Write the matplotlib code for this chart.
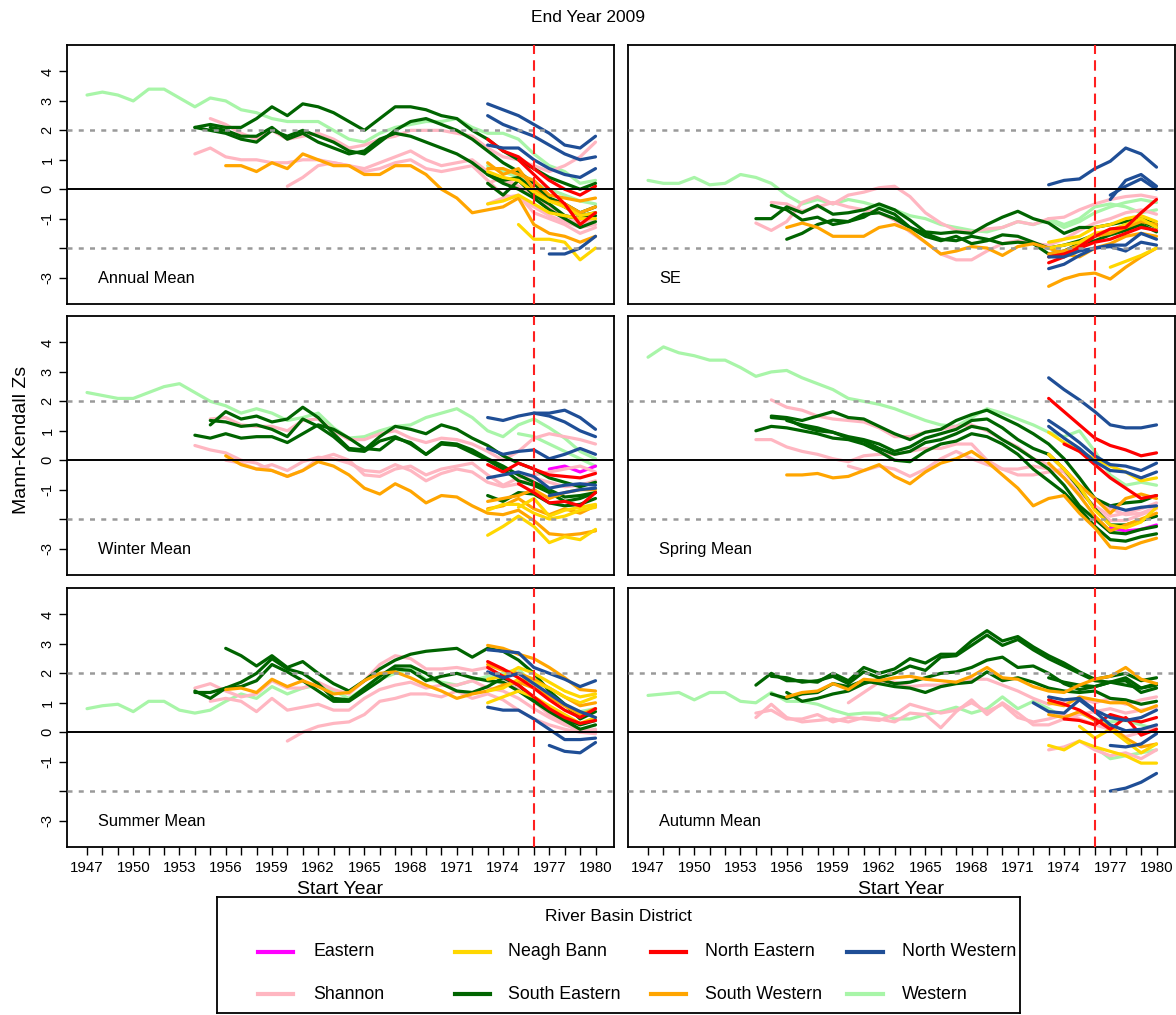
import numpy as np
import matplotlib
matplotlib.use("Agg")
import matplotlib.pyplot as plt

plt.rcParams['font.family'] = ['Liberation Sans', 'DejaVu Sans']

districts = ["Eastern", "Neagh Bann", "North Eastern", "North Western",
             "Shannon", "South Eastern", "South Western", "Western"]
district_colors = ["#FF00FF", "#FFD700", "#FF0000", "#1F4E96",
                   "#FFB6C1", "#006400", "#FFA500", "#A8F5A8"]
panel_titles = ["Annual Mean", "SE", "Winter Mean", "Spring Mean", "Summer Mean", "Autumn Mean"]
first_year, last_year = 1947, 1980
change_year = 1976
ytick_values = [-3, -2, -1, 0, 1, 2, 3, 4]
ytick_labels = ["-3", "", "-1", "0", "1", "2", "3", "4"]

# (district, start year, Mann-Kendall Zs for start year .. 1980)
annual_mean = [
    ("Western", 1947, [3.2, 3.3, 3.2, 3.0, 3.4, 3.4, 3.1, 2.8, 3.1, 3.0, 2.7, 2.6, 2.4, 2.3, 2.3, 2.3, 2.0,
                       1.7, 1.6, 1.9, 2.1, 2.2, 2.3, 2.3, 2.4, 2.1, 1.9, 1.9, 1.7, 1.2, 0.8, 0.6, 0.2, 0.3]),
    ("Western", 1973, [0.8, 0.6, 0.4, 0.2, 0.0, -0.2, -0.4, -0.5]),
    ("Shannon", 1955, [2.4, 2.2, 1.9, 1.7, 2.0, 1.7, 1.8, 1.9, 1.7, 1.4, 1.5, 1.7, 1.8, 2.0, 2.0, 2.0, 1.9,
                       1.8, 1.4, 1.1, 1.0, 0.8, 0.6, 0.8, 1.1, 1.6]),
    ("Shannon", 1954, [1.2, 1.4, 1.1, 1.0, 1.0, 0.9, 0.9, 1.0, 1.0, 0.9, 0.8, 0.7, 0.9, 1.1, 1.3, 1.0, 0.8,
                       0.9, 1.0, 0.6, 0.3, 0.0, -0.2, -0.6, -0.9, -1.2, -1.0]),
    ("Shannon", 1960, [0.1, 0.4, 0.8, 0.9, 0.8, 0.6, 0.7, 0.9, 1.0, 0.7, 0.6, 0.7, 0.8, 0.3, -0.2, -0.3,
                       -0.6, -0.9, -1.1, -1.3, -1.2]),
    ("Shannon", 1973, [-0.5, -0.3, -0.2, -0.8, -1.0, -1.2, -1.5, -1.3]),
    ("Shannon", 1973, [0.2, 0.4, 0.1, -0.3, -0.6, -0.9, -1.1, -1.0]),
    ("South Eastern", 1954, [2.1, 2.2, 2.1, 2.1, 2.4, 2.8, 2.5, 2.9, 2.8, 2.6, 2.3, 2.0, 2.4, 2.8, 2.8, 2.7,
                             2.5, 2.4, 2.0, 1.7, 1.3, 1.0, 0.7, 0.4, 0.2, 0.0, 0.2]),
    ("South Eastern", 1954, [2.1, 2.0, 1.9, 1.7, 1.6, 2.0, 1.8, 2.0, 1.8, 1.6, 1.3, 1.2, 1.6, 2.0, 2.3, 2.4,
                             2.2, 2.0, 1.7, 1.3, 0.9, 0.6, 0.2, -0.3, -0.6, -0.9, -0.8]),
    ("South Eastern", 1955, [2.1, 2.0, 1.8, 1.8, 2.1, 1.7, 1.9, 1.6, 1.4, 1.2, 1.3, 1.7, 1.9, 1.8, 1.6, 1.4,
                             1.2, 0.9, 0.5, 0.2, 0.0, -0.3, -0.7, -1.0, -1.3, -1.1]),
    ("South Eastern", 1973, [0.5, 0.3, 0.4, 0.0, -0.3, -0.5, -0.8, -0.6]),
    ("South Eastern", 1973, [0.2, -0.2, 0.3, -0.2, -0.5, -0.9, -1.0, -0.9]),
    ("South Western", 1956, [0.8, 0.8, 0.6, 0.9, 0.7, 1.2, 1.0, 0.8, 0.8, 0.5, 0.5, 0.8, 0.8, 0.5, 0.0,
                             -0.3, -0.8, -0.7, -0.6, -0.3, -1.2, -1.5, -1.6, -1.8, -1.6]),
    ("South Western", 1973, [0.7, 0.7, 0.5, 0.3, -0.2, -0.3, -0.4, -0.3]),
    ("South Western", 1973, [0.9, 0.5, 0.7, 0.0, -0.4, -0.5, -0.8, -0.6]),
    ("Neagh Bann", 1973, [-0.5, -0.4, -0.2, -0.5, -0.8, -0.9, -1.0, -1.0]),
    ("Neagh Bann", 1975, [-1.2, -1.7, -1.7, -1.8, -2.4, -2.0]),
    ("Neagh Bann", 1973, [0.6, 0.4, 0.3, -0.1, -0.4, -0.6, -0.9, -0.8]),
    ("North Eastern", 1973, [1.7, 1.3, 1.1, 0.7, 0.3, 0.0, -0.2, 0.1]),
    ("North Eastern", 1975, [1.0, 0.5, 0.0, -0.5, -1.2, -0.8]),
    ("North Western", 1973, [2.9, 2.7, 2.5, 2.2, 1.9, 1.5, 1.4, 1.8]),
    ("North Western", 1973, [2.5, 2.2, 2.0, 1.8, 1.5, 1.2, 1.0, 1.1]),
    ("North Western", 1973, [1.5, 1.4, 1.4, 1.0, 0.7, 0.5, 0.4, 0.7]),
    ("North Western", 1977, [-2.2, -2.2, -2.0, -1.6]),
]

se_panel = [
    ("Western", 1947, [0.3, 0.2, 0.2, 0.4, 0.15, 0.2, 0.5, 0.4, 0.2, -0.2, -0.5, -0.35, -0.5, -0.35, -0.45,
                       -0.6, -0.7, -0.9, -1.0, -1.2, -1.3, -1.4, -1.45, -1.3, -1.1, -1.2, -1.05, -1.3, -1.1,
                       -0.8, -0.6, -0.45, -0.35, -0.45]),
    ("Western", 1973, [-1.0, -1.2, -1.0, -0.6, -0.5, -0.6, -0.8, -0.7]),
    ("Shannon", 1954, [-1.15, -1.4, -1.1, -0.45, -0.25, -0.5, -0.2, -0.1, 0.05, 0.1, -0.25, -0.8, -1.15,
                       -1.4, -1.45, -1.35, -1.3, -1.1, -1.2, -1.0, -0.95, -0.7, -0.5, -0.35, -0.25, -0.2, -0.3]),
    ("Shannon", 1955, [-0.45, -0.5, -0.75, -0.6, -0.45, -0.6, -0.7, -0.8, -1.05, -1.45, -1.8, -2.2, -2.4,
                       -2.4, -2.1, -1.85, -1.75, -1.85, -1.9, -1.7, -1.4, -1.15, -1.0, -0.8, -0.7, -0.85]),
    ("South Eastern", 1954, [-1.0, -1.0, -0.6, -0.8, -0.55, -0.85, -0.8, -0.7, -0.5, -0.7, -1.05, -1.45,
                             -1.5, -1.45, -1.5, -1.2, -0.95, -0.75, -1.0, -1.15, -1.5, -1.3, -1.3, -1.2,
                             -1.1, -1.0, -1.2]),
    ("South Eastern", 1955, [-0.55, -0.7, -1.05, -0.95, -1.2, -1.1, -0.85, -0.8, -1.0, -1.3, -1.6, -1.75,
                             -1.6, -1.85, -1.75, -1.55, -1.6, -1.8, -2.0, -1.9, -1.75, -1.55, -1.45, -1.3,
                             -1.1, -1.3]),
    ("South Eastern", 1956, [-1.7, -1.5, -1.2, -1.05, -1.1, -0.95, -0.65, -0.85, -1.3, -1.5, -1.7, -1.75,
                             -1.6, -1.7, -1.85, -1.8, -1.85, -2.2, -2.1, -1.85, -1.75, -1.55, -1.4, -1.2,
                             -1.45]),
    ("South Western", 1956, [-1.3, -1.15, -1.3, -1.6, -1.6, -1.6, -1.3, -1.2, -1.4, -1.8, -2.2, -2.1,
                             -1.95, -2.0, -2.25, -1.95, -1.85, -2.0, -2.2, -2.3, -2.0, -1.85, -1.6, -1.5,
                             -1.6]),
    ("South Western", 1973, [-3.3, -3.05, -2.9, -2.85, -3.05, -2.65, -2.3, -2.0]),
    ("South Western", 1973, [-2.2, -2.1, -1.9, -1.6, -1.5, -1.3, -1.1, -1.2]),
    ("Neagh Bann", 1977, [-2.65, -2.45, -2.25, -2.0]),
    ("Neagh Bann", 1973, [-1.8, -1.7, -1.6, -1.3, -1.2, -1.0, -0.9, -1.1]),
    ("Neagh Bann", 1973, [-2.0, -1.9, -1.8, -1.5, -1.4, -1.2, -1.0, -1.3]),
    ("North Eastern", 1973, [-2.5, -2.3, -1.95, -1.6, -1.35, -1.3, -0.8, -0.35]),
    ("North Eastern", 1973, [-2.3, -2.2, -2.0, -1.8, -1.7, -1.5, -1.3, -1.4]),
    ("North Western", 1973, [0.15, 0.3, 0.35, 0.7, 0.95, 1.4, 1.2, 0.75]),
    ("North Western", 1977, [-0.35, 0.3, 0.5, 0.1]),
    ("North Western", 1977, [-0.2, 0.1, 0.35, 0.0]),
    ("North Western", 1973, [-2.7, -2.55, -2.25, -2.0, -1.95, -2.1, -1.8, -1.9]),
    ("North Western", 1973, [-2.3, -2.3, -2.1, -2.0, -1.9, -1.9, -1.5, -1.7]),
]

winter_mean = [
    ("Western", 1947, [2.3, 2.2, 2.1, 2.1, 2.3, 2.5, 2.6, 2.3, 2.0, 1.85, 1.6, 1.75, 1.6, 1.35, 1.45, 1.6,
                       1.1, 0.75, 0.8, 1.0, 1.15, 1.2, 1.45, 1.6, 1.75, 1.45, 1.0, 0.8, 1.2, 1.4, 1.1, 0.75,
                       0.3, 0.05]),
    ("Western", 1975, [0.9, 0.8, 0.55, 0.3, 0.05, -0.2]),
    ("Eastern", 1977, [-0.3, -0.2, -0.4, -0.2]),
    ("Shannon", 1955, [1.4, 1.45, 1.2, 1.15, 1.15, 1.0, 1.35, 1.4, 1.0, 0.7, 0.7, 0.9, 1.0, 0.75, 0.6, 0.75,
                       0.7, 0.55, 0.3, 0.0, 0.3, 0.75, 0.9, 0.8, 0.7, 0.55]),
    ("Shannon", 1954, [0.5, 0.35, 0.25, 0.0, -0.1, -0.35, -0.55, -0.35, 0.05, 0.2, 0.0, -0.5, -0.55, -0.3,
                       -0.2, -0.5, -0.3, -0.2, -0.1, -0.5, -0.85, -0.6, -0.5, -0.4, -0.3, -0.2, -0.4]),
    ("Shannon", 1956, [0.0, -0.1, -0.3, -0.15, -0.35, -0.05, 0.1, 0.05, -0.1, -0.35, -0.4, -0.15, -0.35,
                       -0.7, -0.45, -0.3, -0.4, -0.75, -0.9, -0.8, -0.6, -0.75, -0.9, -0.85, -0.7]),
    ("South Eastern", 1954, [0.85, 0.75, 0.9, 0.75, 0.8, 0.8, 0.6, 0.9, 1.2, 1.05, 0.75, 0.4, 0.35, 0.75,
                             0.6, 0.2, 0.55, 0.5, 0.25, 0.0, -0.3, -0.7, -0.85, -1.1, -1.4, -1.3, -1.1]),
    ("South Eastern", 1955, [1.2, 1.65, 1.4, 1.5, 1.3, 1.4, 1.8, 1.45, 0.9, 0.4, 0.35, 0.8, 1.15, 1.05, 0.9,
                             1.2, 1.05, 0.75, 0.5, 0.15, -0.1, -0.3, -0.6, -0.75, -0.9, -0.75]),
    ("South Eastern", 1955, [1.35, 1.3, 1.15, 1.2, 1.05, 0.8, 1.4, 1.15, 0.8, 0.35, 0.3, 0.65, 0.8, 0.55,
                             0.2, 0.6, 0.55, 0.35, 0.05, -0.2, -0.5, -0.75, -1.0, -1.25, -1.2, -1.1]),
    ("South Eastern", 1973, [-1.2, -1.4, -1.1, -1.15, -1.45, -1.55, -1.5, -1.3]),
    ("South Western", 1956, [0.15, -0.15, -0.3, -0.35, -0.55, -0.35, -0.05, -0.2, -0.5, -0.95, -1.15, -0.8,
                             -1.05, -1.45, -1.2, -1.25, -1.55, -1.8, -1.85, -1.7, -2.05, -2.5, -2.55, -2.5,
                             -2.4]),
    ("South Western", 1973, [-1.65, -1.55, -1.3, -1.65, -1.85, -1.65, -1.8, -1.55]),
    ("South Western", 1973, [-1.4, -1.3, -1.2, -1.0, -1.3, -1.1, -1.0, -1.0]),
    ("Neagh Bann", 1973, [-2.55, -2.25, -1.9, -2.25, -2.8, -2.6, -2.7, -2.35]),
    ("Neagh Bann", 1973, [-1.7, -1.5, -1.5, -1.8, -2.0, -1.9, -1.7, -1.6]),
    ("Neagh Bann", 1975, [-1.6, -1.3, -1.9, -1.7, -1.6, -1.5]),
    ("North Eastern", 1973, [-0.15, -0.4, -0.1, -0.3, -0.5, -0.55, -0.6, -0.45]),
    ("North Eastern", 1975, [-0.8, -1.1, -1.45, -1.4, -1.55, -1.1]),
    ("North Western", 1973, [1.45, 1.35, 1.5, 1.6, 1.6, 1.7, 1.45, 1.05]),
    ("North Western", 1976, [1.6, 1.5, 1.3, 1.0, 0.8]),
    ("North Western", 1973, [0.4, 0.2, 0.3, 0.35, 0.05, 0.2, 0.4, 0.2]),
    ("North Western", 1973, [-0.6, -0.5, -0.4, -0.55, -0.95, -0.85, -0.8, -0.85]),
    ("North Western", 1977, [-1.2, -1.1, -1.0, -0.95]),
]

spring_mean = [
    ("Western", 1947, [3.5, 3.85, 3.65, 3.55, 3.4, 3.4, 3.15, 2.85, 3.0, 3.05, 2.8, 2.6, 2.4, 2.1, 2.0, 1.9,
                       1.75, 1.55, 1.35, 1.2, 1.15, 1.45, 1.75, 1.6, 1.4, 1.2, 0.95, 0.8, 1.0, 0.3, -0.5,
                       -0.85, -0.75, -0.85]),
    ("Eastern", 1977, [-2.3, -2.4, -2.35, -2.2]),
    ("Shannon", 1955, [2.05, 1.8, 1.7, 1.5, 1.4, 1.35, 1.3, 1.1, 0.8, 0.8, 0.95, 1.05, 1.15, 1.2, 1.0, 0.7,
                       0.45, 0.05, -0.15, -0.6, -1.1, -1.55, -1.9, -1.8, -1.65, -1.45]),
    ("Shannon", 1954, [0.7, 0.7, 0.45, 0.3, 0.2, 0.05, -0.05, 0.15, 0.2, 0.2, 0.3, 0.4, 0.4, 0.55, 0.55,
                       0.0, -0.3, -0.5, -0.5, -0.4, -0.3, -0.85, -1.3, -1.65, -1.85, -1.8, -1.6]),
    ("Shannon", 1960, [-0.2, -0.35, -0.2, -0.3, -0.55, -0.3, 0.05, 0.3, 0.05, -0.15, -0.3, -0.3, -0.2, -0.3,
                       -0.4, -0.95, -1.65, -2.05, -2.05, -1.85, -1.65]),
    ("South Eastern", 1955, [1.5, 1.45, 1.35, 1.5, 1.65, 1.45, 1.4, 1.15, 0.9, 0.7, 0.95, 1.05, 1.35, 1.55,
                             1.7, 1.45, 1.2, 0.9, 0.55, 0.05, -0.6, -1.3, -1.55, -1.45, -1.4, -1.2]),
    ("South Eastern", 1954, [1.0, 1.15, 1.1, 1.0, 0.9, 0.75, 0.7, 0.55, 0.3, 0.0, -0.05, 0.3, 0.55, 0.65,
                             0.9, 0.8, 0.55, 0.2, -0.3, -0.7, -1.1, -1.65, -2.25, -2.7, -2.75, -2.6, -2.5]),
    ("South Eastern", 1955, [1.45, 1.4, 1.15, 1.0, 0.95, 0.75, 0.65, 0.4, 0.2, 0.3, 0.6, 0.7, 0.9, 1.15,
                             1.05, 0.7, 0.4, 0.05, -0.3, -0.85, -1.55, -2.0, -2.45, -2.5, -2.35, -2.25]),
    ("South Eastern", 1956, [1.35, 1.2, 1.1, 0.95, 0.8, 0.7, 0.55, 0.3, 0.45, 0.75, 0.9, 1.05, 1.35, 1.4,
                             1.1, 0.7, 0.4, 0.2, -0.3, -0.95, -1.65, -2.2, -2.2, -2.05, -1.9]),
    ("South Western", 1956, [-0.5, -0.5, -0.45, -0.6, -0.55, -0.35, -0.15, -0.55, -0.8, -0.4, -0.1, 0.05,
                             0.3, -0.05, -0.5, -0.95, -1.55, -1.3, -1.2, -1.8, -2.3, -2.95, -3.0, -2.8,
                             -2.65]),
    ("South Western", 1973, [0.2, -0.3, -0.85, -1.3, -1.8, -1.3, -1.15, -1.3]),
    ("South Western", 1973, [-0.1, -0.6, -1.2, -1.9, -2.4, -2.2, -2.0, -1.8]),
    ("Neagh Bann", 1973, [0.95, 0.6, 0.3, 0.05, -0.2, -0.4, -0.7, -0.6]),
    ("Neagh Bann", 1973, [0.2, -0.3, -0.9, -1.7, -2.2, -2.3, -2.1, -1.6]),
    ("North Eastern", 1973, [2.1, 1.65, 1.2, 0.75, 0.5, 0.35, 0.15, 0.25]),
    ("North Eastern", 1974, [0.55, 0.3, -0.15, -0.6, -0.95, -1.3, -1.2]),
    ("North Western", 1973, [2.8, 2.4, 2.05, 1.65, 1.2, 1.1, 1.1, 1.2]),
    ("North Western", 1973, [1.35, 1.0, 0.6, 0.15, -0.15, -0.2, -0.35, -0.1]),
    ("North Western", 1973, [1.15, 0.75, 0.4, -0.05, -0.35, -0.4, -0.6, -0.4]),
    ("North Western", 1977, [-1.55, -1.7, -1.6, -1.55]),
]

summer_mean = [
    ("Western", 1947, [0.8, 0.9, 0.95, 0.7, 1.05, 1.05, 0.75, 0.65, 0.75, 1.05, 1.3, 1.15, 1.55, 1.3, 1.5,
                       1.6, 1.4, 1.15, 1.5, 1.8, 2.0, 2.15, 1.8, 1.7, 1.6, 1.75, 1.9, 2.0, 2.15, 1.6, 1.3,
                       0.95, 0.7, 0.8]),
    ("Shannon", 1954, [1.5, 1.65, 1.4, 1.2, 1.3, 1.75, 1.5, 1.5, 1.7, 1.45, 1.3, 1.75, 2.3, 2.6, 2.5, 2.15,
                       2.15, 2.2, 2.1, 2.2, 1.85, 1.5, 1.05, 0.6, 0.3, 0.0, 0.1]),
    ("Shannon", 1955, [1.05, 1.15, 1.05, 0.7, 1.15, 0.75, 0.85, 0.95, 0.75, 0.75, 1.15, 1.45, 1.6, 1.7,
                       1.5, 1.6, 1.6, 1.75, 1.5, 1.4, 1.15, 0.8, 0.5, 0.25, 0.1, 0.05]),
    ("Shannon", 1960, [-0.3, 0.0, 0.2, 0.3, 0.35, 0.6, 1.05, 1.15, 1.3, 1.3, 1.2, 1.4, 1.15, 1.3, 1.1,
                       0.75, 0.45, 0.25, 0.1, 0.0, -0.05]),
    ("South Eastern", 1956, [2.85, 2.6, 2.25, 2.6, 2.2, 2.4, 2.0, 1.65, 1.4, 1.75, 2.15, 2.45, 2.65, 2.75,
                             2.8, 2.85, 2.55, 2.85, 2.75, 2.45, 2.0, 1.4, 0.95, 0.45, 0.7]),
    ("South Eastern", 1954, [1.35, 1.35, 1.5, 1.7, 2.0, 2.5, 2.15, 2.0, 1.65, 1.15, 1.1, 1.5, 1.9, 2.25,
                             2.25, 2.0, 1.65, 1.4, 1.35, 1.55, 1.85, 1.6, 1.15, 0.8, 0.45, 0.25, 0.4]),
    ("South Eastern", 1954, [1.4, 1.15, 1.5, 1.55, 1.75, 2.3, 2.05, 1.75, 1.4, 1.05, 1.05, 1.4, 1.75, 2.15,
                             2.1, 1.75, 1.9, 2.0, 1.85, 1.75, 1.7, 1.4, 1.05, 0.7, 0.4, 0.1, 0.25]),
    ("South Western", 1956, [1.45, 1.5, 1.35, 1.8, 1.55, 1.75, 1.55, 1.3, 1.35, 1.75, 2.0, 2.05, 1.85, 1.6,
                             1.4, 1.15, 1.3, 1.4, 1.6, 1.7, 1.5, 1.2, 0.9, 0.6, 0.8]),
    ("South Western", 1973, [2.95, 2.85, 2.65, 2.5, 2.2, 1.85, 1.45, 1.4]),
    ("South Western", 1973, [2.3, 2.1, 2.0, 1.8, 1.5, 1.2, 0.9, 1.0]),
    ("Neagh Bann", 1973, [1.4, 1.5, 1.8, 1.7, 1.5, 1.2, 1.0, 1.2]),
    ("Neagh Bann", 1973, [1.8, 1.9, 2.2, 2.0, 1.7, 1.4, 1.2, 1.3]),
    ("Neagh Bann", 1973, [1.0, 1.2, 1.4, 1.2, 0.9, 0.6, 0.3, 0.5]),
    ("North Eastern", 1973, [2.4, 2.15, 1.85, 1.5, 1.1, 0.75, 0.5, 0.8]),
    ("North Eastern", 1973, [2.2, 1.9, 1.6, 1.2, 0.8, 0.5, 0.3, 0.4]),
    ("North Western", 1973, [2.8, 2.75, 2.7, 2.2, 2.0, 1.8, 1.55, 1.75]),
    ("North Western", 1973, [2.05, 1.85, 2.0, 1.65, 1.3, 0.95, 0.7, 0.5]),
    ("North Western", 1973, [0.85, 0.75, 0.75, 0.45, 0.1, -0.25, -0.25, -0.2]),
    ("North Western", 1977, [-0.45, -0.65, -0.7, -0.35]),
]

autumn_mean = [
    ("Western", 1947, [1.25, 1.3, 1.35, 1.1, 1.35, 1.35, 1.05, 1.0, 1.35, 1.05, 1.05, 0.95, 0.75, 0.6, 0.65,
                       0.65, 0.45, 0.45, 0.6, 0.7, 0.85, 0.65, 0.8, 1.2, 0.8, 1.05, 0.8, 0.5, 0.65, 0.45,
                       0.35, 0.4, 0.25, 0.1]),
    ("Western", 1976, [-0.5, -0.9, -0.8, -0.7, -0.6]),
    ("Shannon", 1954, [0.5, 0.95, 0.5, 0.35, 0.4, 0.45, 0.35, 0.5, 0.45, 0.35, 0.65, 0.6, 0.15, 0.7, 1.1,
                       0.6, 1.0, 0.65, 0.25, 0.25, 0.45, 0.6, 0.7, 0.8, 0.65, 0.75, 0.85]),
    ("Shannon", 1954, [0.65, 0.75, 0.45, 0.45, 0.6, 0.35, 0.5, 0.45, 0.4, 0.6, 0.95, 0.8, 0.65, 0.75, 1.0,
                       0.7, 0.95, 0.5, 0.35, 0.45, 0.6, 0.45, 0.25, 0.1, -0.15, 0.0, 0.2]),
    ("Shannon", 1960, [1.0, 1.35, 1.7, 1.7, 1.55, 1.6, 1.6, 1.7, 1.8, 1.8, 1.6, 1.4, 1.15, 0.95, 1.05, 1.15,
                       1.0, 1.15, 0.95, 1.1, 1.2]),
    ("Shannon", 1973, [-0.6, -0.5, -0.3, -0.6, -0.8, -0.7, -0.9, -0.6]),
    ("South Eastern", 1954, [1.6, 2.0, 1.75, 1.75, 1.7, 2.0, 1.75, 2.2, 2.0, 2.15, 2.5, 2.35, 2.65, 2.65,
                             3.1, 3.45, 3.1, 3.25, 2.9, 2.6, 2.35, 2.05, 1.8, 1.9, 2.0, 1.75, 1.85]),
    ("South Eastern", 1955, [1.9, 1.85, 1.7, 1.75, 1.9, 1.65, 2.05, 1.85, 2.0, 2.25, 2.1, 2.55, 2.6, 2.95,
                             3.3, 2.95, 3.15, 2.8, 2.5, 2.25, 2.0, 1.75, 1.7, 1.85, 1.5, 1.65]),
    ("South Eastern", 1956, [1.35, 1.05, 1.15, 1.3, 1.4, 1.65, 1.8, 1.65, 1.7, 1.85, 2.0, 2.05, 2.2, 2.45,
                             2.55, 2.2, 2.25, 2.0, 1.65, 1.45, 1.55, 1.7, 1.75, 1.35, 1.5]),
    ("South Eastern", 1955, [1.3, 1.15, 1.3, 1.35, 1.65, 1.55, 1.75, 1.65, 1.55, 1.5, 1.35, 1.55, 1.65, 1.7,
                             2.05, 1.75, 1.85, 1.7, 1.5, 1.4, 1.35, 1.4, 1.15, 1.1, 0.95, 1.05]),
    ("South Eastern", 1973, [1.85, 1.7, 1.6, 1.55, 1.7, 1.6, 1.5, 1.6]),
    ("South Western", 1956, [1.2, 1.35, 1.4, 1.65, 1.45, 1.8, 1.75, 1.85, 1.9, 1.8, 1.75, 1.7, 1.9, 2.2,
                             1.85, 1.8, 1.55, 1.4, 1.35, 1.6, 1.8, 1.9, 2.2, 1.8, 1.65]),
    ("South Western", 1973, [1.0, 0.9, 1.2, 1.1, 1.0, 1.0, 0.7, 0.9]),
    ("South Western", 1973, [0.6, 0.5, 0.7, 0.4, 0.2, -0.2, -0.5, -0.4]),
    ("Neagh Bann", 1973, [-0.45, -0.6, -0.3, -0.5, -0.65, -0.8, -1.05, -1.05]),
    ("Neagh Bann", 1975, [0.2, -0.2, 0.1, -0.3, -0.7, -0.4]),
    ("North Eastern", 1974, [0.45, 0.4, 0.25, 0.6, 0.45, 0.35, 0.5]),
    ("North Eastern", 1973, [1.1, 0.95, 0.75, 0.45, 0.1, 0.5, -0.1, 0.1]),
    ("North Western", 1972, [1.0, 0.7, 0.65, 1.1, 0.7, 0.25, 0.05, 0.1, 0.25]),
    ("North Western", 1973, [1.2, 1.1, 1.15, 0.75, 0.5, 0.4, 0.5, 0.75]),
    ("North Western", 1977, [-0.45, -0.5, -0.4, -0.05]),
    ("North Western", 1977, [-2.0, -1.9, -1.7, -1.4]),
]

panel_data = [annual_mean, se_panel, winter_mean, spring_mean, summer_mean, autumn_mean]

W, H = 1176, 1015
fig = plt.figure(figsize=(W / 100, H / 100), dpi=100)

col_left = [67, 628]
col_width = 547
row_top = [45, 316, 588]
row_height = 259

for i, series in enumerate(panel_data):
    r, c = divmod(i, 2)
    x0 = col_left[c] / W
    y0 = 1 - (row_top[r] + row_height) / H
    ax = fig.add_axes([x0, y0, col_width / W, row_height / H])

    for name, start, vals in series:
        col = district_colors[districts.index(name)]
        yrs = np.arange(start, start + len(vals))
        ax.plot(yrs, vals, color=col, lw=2.3, solid_capstyle='round', solid_joinstyle='round', zorder=2)

    ax.axhline(0, color='black', lw=1.4, zorder=3)
    for h in (2, -2):
        ax.axhline(h, color='#9a9a9a', lw=1.8, ls=(0, (2, 2.5)), zorder=3)
    ax.axvline(change_year, color='#FF2020', lw=1.5, ls=(0, (5, 3)), zorder=4)

    ax.set_xlim(1945.7, 1981.2)
    ax.set_ylim(-3.9, 4.9)
    ax.text(0.057, 0.1, panel_titles[i], transform=ax.transAxes, fontsize=11.8, ha='left', va='center')

    for s in ax.spines.values():
        s.set_linewidth(1.3)

    ax.set_yticks(ytick_values)
    if c == 0:
        ax.set_yticklabels(ytick_labels, rotation=90, va='center', fontsize=10.5)
        ax.tick_params(axis='y', length=6, width=1, pad=3)
    else:
        ax.tick_params(axis='y', left=False, labelleft=False)

    years = np.arange(first_year, last_year + 1)
    ax.set_xticks(years)
    if r == 2:
        ax.set_xticklabels([str(y) if (y - first_year) % 3 == 0 else '' for y in years], fontsize=10.8)
        ax.tick_params(axis='x', length=6, width=1, pad=4)
        ax.text(0.5, -0.165, "Start Year", transform=ax.transAxes, ha='center', va='center', fontsize=14)
    else:
        ax.tick_params(axis='x', bottom=False, labelbottom=False)

fig.text(0.5, 1 - 17 / H, "End Year 2009", ha='center', va='center', fontsize=12.5)
fig.text(22 / W, 1 - 440 / H, "Mann-Kendall Zs", ha='center', va='center', rotation=90, fontsize=14)

# legend box
lax = fig.add_axes([217 / W, 2 / H, 803 / W, (1013 - 897) / H])
lax.set_xlim(0, 1)
lax.set_ylim(0, 1)
lax.set_xticks([])
lax.set_yticks([])
for s in lax.spines.values():
    s.set_linewidth(1.3)
lax.text(0.5, 0.83, "River Basin District", ha='center', va='center', fontsize=12.5)
line_x = [0.051, 0.296, 0.54, 0.785]
text_x = [0.12, 0.362, 0.608, 0.853]
row_y = [0.53, 0.16]
for k, name in enumerate(districts):
    rr, cc = divmod(k, 4)
    lax.plot([line_x[cc], line_x[cc] + 0.044], [row_y[rr], row_y[rr]],
             color=district_colors[k], lw=3)
    lax.text(text_x[cc], row_y[rr], name, ha='left', va='center', fontsize=12.8)

fig.savefig("out.png", dpi=100)
